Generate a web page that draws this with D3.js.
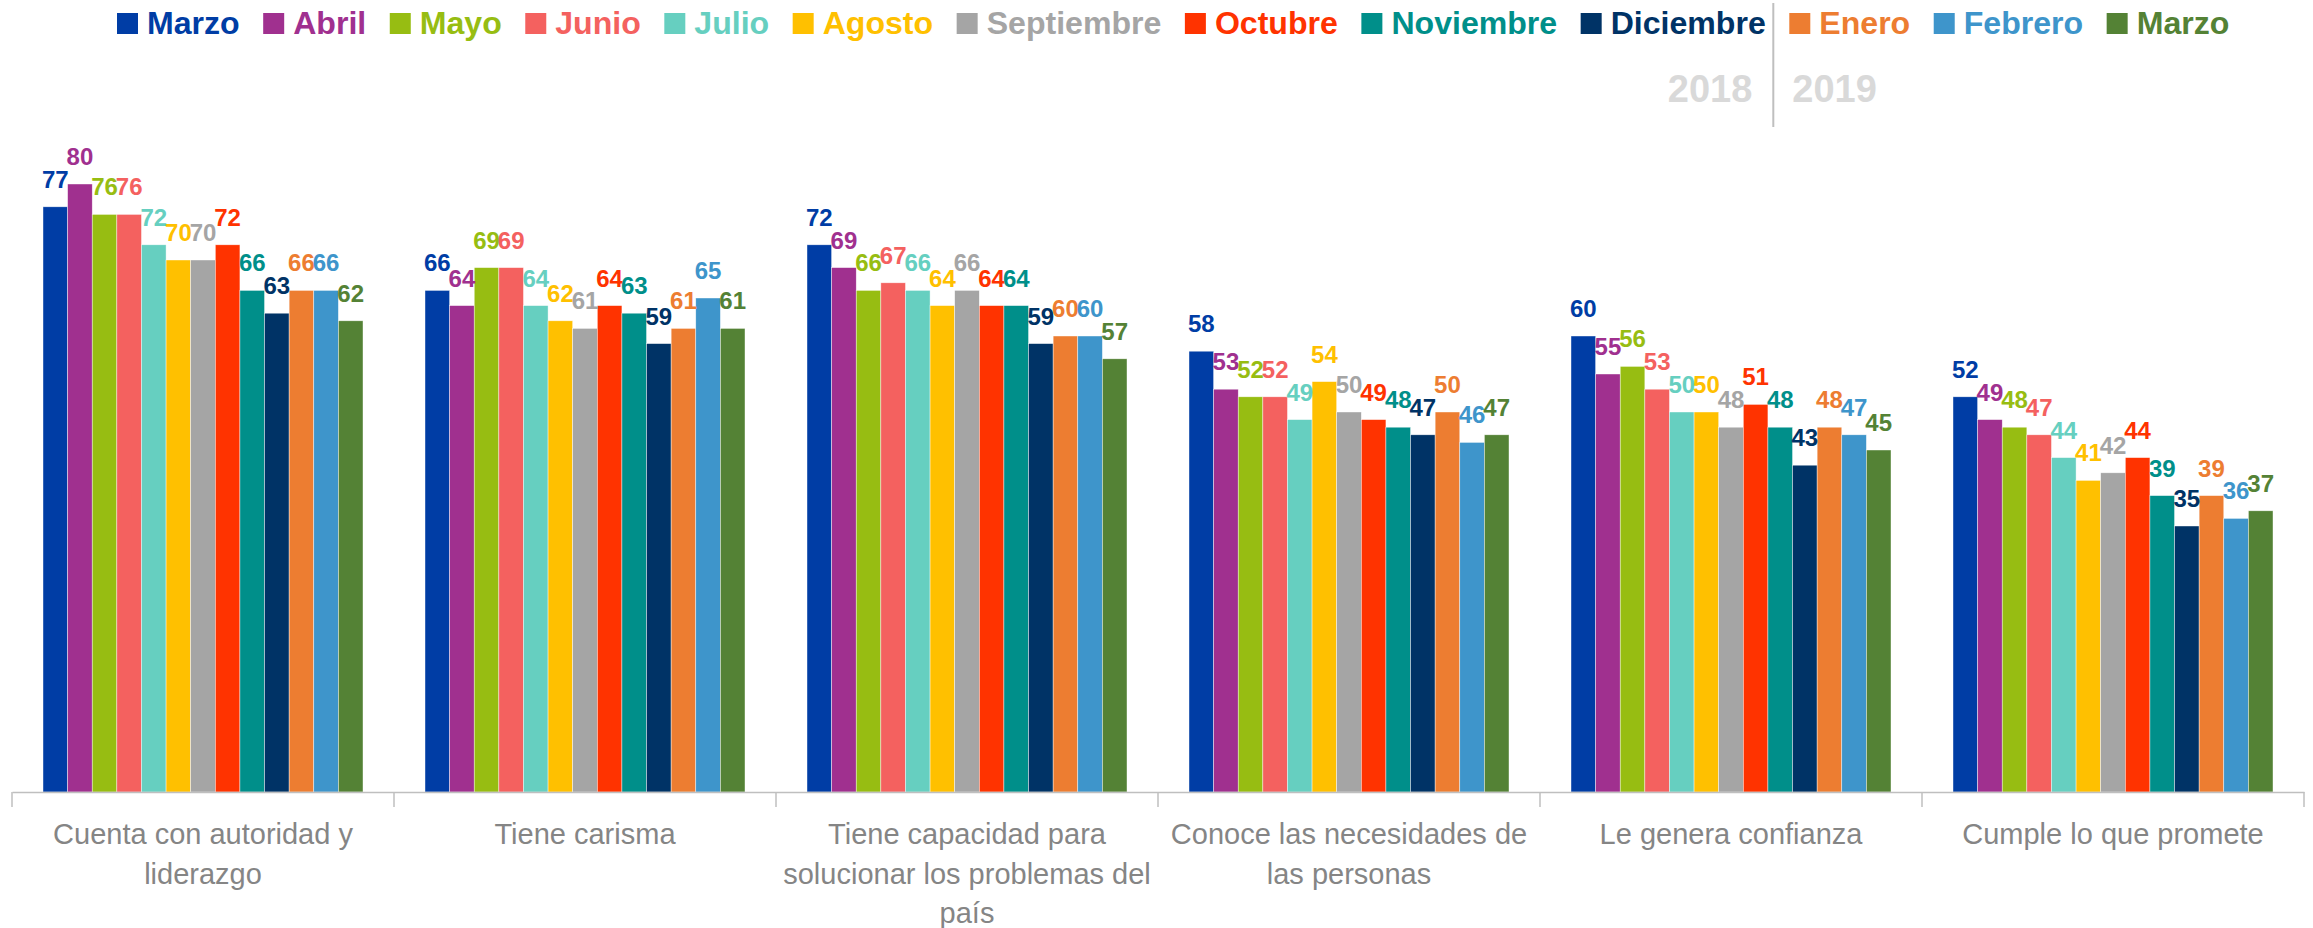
<!DOCTYPE html>
<html>
<head>
<meta charset="utf-8">
<script src="https://cdn.jsdelivr.net/npm/d3@7"></script>
<style>
  html, body { margin: 0; padding: 0; background: #fff; }
  svg { display: block; }
</style>
</head>
<body>
<svg id="chart" width="2313" height="928"></svg>
<script>
// ---------- DATA ----------
const categories = [
  "Cuenta con autoridad y\nliderazgo",
  "Tiene carisma",
  "Tiene capacidad para\nsolucionar los problemas del\npaís",
  "Conoce las necesidades de\nlas personas",
  "Le genera confianza",
  "Cumple lo que promete"
];
const seriesNames = ["Marzo", "Abril", "Mayo", "Junio", "Julio", "Agosto", "Septiembre",
  "Octubre", "Noviembre", "Diciembre", "Enero", "Febrero", "Marzo"];
const seriesYear = ["2018","2018","2018","2018","2018","2018","2018","2018","2018","2018","2019","2019","2019"];
const seriesColors = ["#003DA5", "#A0308F", "#97BD12", "#F4615F", "#66CFC0", "#FFC000", "#A5A5A5",
  "#FF3300", "#008F8A", "#003366", "#ED7D31", "#3E95CB", "#548235"];
// values per category, in series order
const valCuenta    = [77, 80, 76, 76, 72, 70, 70, 72, 66, 63, 66, 66, 62];
const valCarisma   = [66, 64, 69, 69, 64, 62, 61, 64, 63, 59, 61, 65, 61];
const valCapacidad = [72, 69, 66, 67, 66, 64, 66, 64, 64, 59, 60, 60, 57];
const valConoce    = [58, 53, 52, 52, 49, 54, 50, 49, 48, 47, 50, 46, 47];
const valConfianza = [60, 55, 56, 53, 50, 50, 48, 51, 48, 43, 48, 47, 45];
const valCumple    = [52, 49, 48, 47, 44, 41, 42, 44, 39, 35, 39, 36, 37];
const values = [valCuenta, valCarisma, valCapacidad, valConoce, valConfianza, valCumple];
const yearLabels = ["2018", "2019"];

// ---------- LAYOUT ----------
const svg = d3.select("#chart");
const baseY = 792;
const x0 = d3.scaleBand().domain(d3.range(categories.length)).range([12, 2304]).padding(0);
const x1 = d3.scaleBand().domain(d3.range(seriesNames.length)).range([31, 351]).padding(0);
const y = d3.scaleLinear().domain([0, 100]).range([baseY, 32]);

const labelFont = "'Liberation Sans', Arial, sans-serif";

// bars
const groups = svg.append("g").selectAll("g")
  .data(values)
  .join("g")
  .attr("transform", (d, i) => `translate(${x0(i)},0)`);

groups.selectAll("rect")
  .data(d => d)
  .join("rect")
  .attr("x", (d, j) => x1(j))
  .attr("width", x1.bandwidth())
  .attr("y", d => y(d))
  .attr("height", d => baseY - y(d))
  .attr("fill", (d, j) => seriesColors[j])
  .attr("stroke", "#ffffff")
  .attr("stroke-width", 0.6)
  .attr("stroke-opacity", 0.7);

groups.selectAll("text")
  .data(d => d)
  .join("text")
  .attr("x", (d, j) => x1(j) + x1.bandwidth() / 2)
  .attr("y", d => y(d) - 19)
  .attr("text-anchor", "middle")
  .attr("font-family", labelFont)
  .attr("font-weight", "bold")
  .attr("font-size", 24)
  .attr("fill", (d, j) => seriesColors[j])
  .text(d => d);

// x axis
const xAxis = d3.axisBottom(x0).tickSize(0).tickFormat("");
const axisG = svg.append("g").attr("transform", `translate(0,${baseY})`).call(xAxis);
axisG.select(".domain").attr("stroke", "#bfbfbf").attr("stroke-width", 1.5);
const bounds = d3.range(categories.length + 1).map(i => i < categories.length ? x0(i) : x0(i - 1) + x0.bandwidth());
axisG.selectAll("line.bound")
  .data(bounds)
  .join("line")
  .attr("class", "bound")
  .attr("x1", d => d).attr("x2", d => d)
  .attr("y1", 0).attr("y2", 15)
  .attr("stroke", "#bfbfbf")
  .attr("stroke-width", 1.5);

// category labels
const catG = svg.append("g");
categories.forEach((c, i) => {
  const t = catG.append("text")
    .attr("x", x0(i) + x0.bandwidth() / 2)
    .attr("y", 844)
    .attr("text-anchor", "middle")
    .attr("font-family", labelFont)
    .attr("font-size", 29)
    .attr("fill", "#858585");
  c.split("\n").forEach((line, k) => {
    t.append("tspan")
      .attr("x", x0(i) + x0.bandwidth() / 2)
      .attr("dy", k === 0 ? 0 : 39.5)
      .text(line);
  });
});

// legend
const legG = svg.append("g");
let cx = 117;
let dividerX = null;
seriesNames.forEach((name, j) => {
  if (j > 0 && seriesYear[j] !== seriesYear[j - 1]) {
    dividerX = cx - 16;
  }
  legG.append("rect")
    .attr("x", cx).attr("y", 13)
    .attr("width", 21).attr("height", 21)
    .attr("fill", seriesColors[j]);
  const t = legG.append("text")
    .attr("x", cx + 30).attr("y", 34)
    .attr("font-family", labelFont)
    .attr("font-weight", "bold")
    .attr("font-size", 32.1)
    .attr("fill", seriesColors[j])
    .text(name);
  const w = t.node().getComputedTextLength();
  cx = cx + 30 + w + 23.5;
});

// divider and year labels
legG.append("line")
  .attr("x1", dividerX).attr("x2", dividerX)
  .attr("y1", 3).attr("y2", 127)
  .attr("stroke", "#bfbfbf").attr("stroke-width", 2);
legG.append("text")
  .attr("x", dividerX - 21).attr("y", 102)
  .attr("text-anchor", "end")
  .attr("font-family", labelFont).attr("font-weight", "bold")
  .attr("font-size", 38).attr("fill", "#d9d9d9")
  .text(yearLabels[0]);
legG.append("text")
  .attr("x", dividerX + 19).attr("y", 102)
  .attr("text-anchor", "start")
  .attr("font-family", labelFont).attr("font-weight", "bold")
  .attr("font-size", 38).attr("fill", "#d9d9d9")
  .text(yearLabels[1]);
</script>
</body>
</html>
